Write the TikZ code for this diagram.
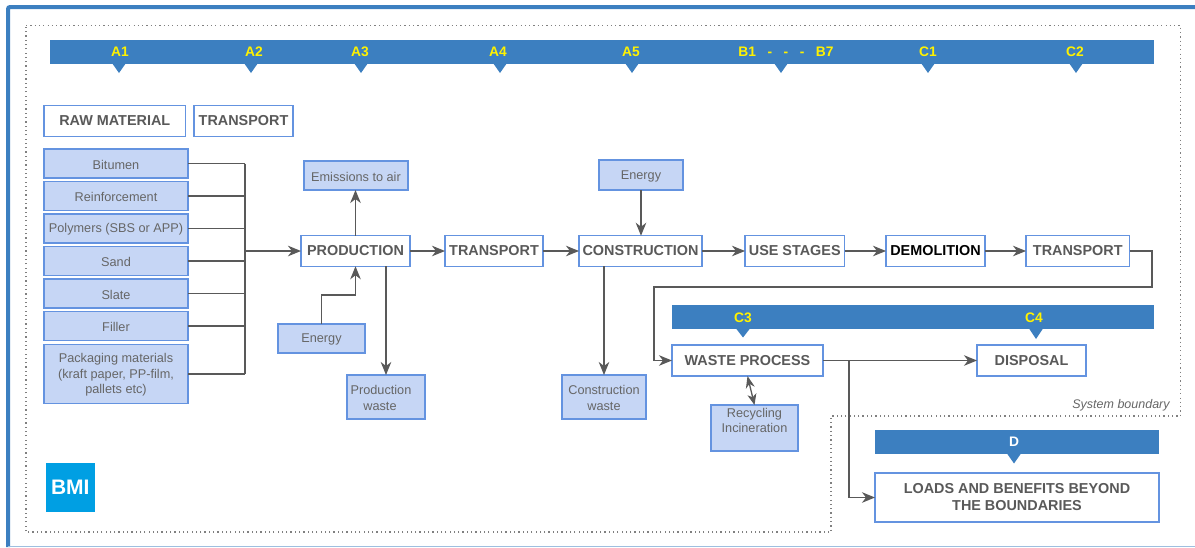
\documentclass[tikz,border=0pt]{standalone}
\usepackage{fontspec}
\setmainfont{Liberation Sans}
\usepackage{xcolor}
\usetikzlibrary{arrows.meta}
\definecolor{barblue}{HTML}{3C7FC0}
\definecolor{boxfill}{HTML}{C6D6F5}
\definecolor{boxline}{HTML}{6493E0}
\definecolor{inktext}{HTML}{595959}
\definecolor{softtext}{HTML}{666666}
\definecolor{logoblue}{HTML}{009FE3}
\newcommand{\toplift}{\rule{0pt}{11.5pt}}
\tikzset{
	bodyfont/.style={font=\fontsize{12.7}{15.5}\selectfont},
	stagebox/.style={draw=boxline,fill=white,line width=1.4pt,inner sep=0pt,outer sep=0pt,align=center,text=inktext,font=\fontsize{14.4}{17}\selectfont\bfseries},
	itembox/.style={draw=boxline,fill=boxfill,line width=1.4pt,inner sep=0pt,outer sep=0pt,align=center,text=softtext,bodyfont},
	bar/.style={fill=barblue,inner sep=0pt,outer sep=0pt},
	barlabel/.style={text=yellow,inner sep=0pt,font=\fontsize{13.8}{16}\selectfont\bfseries},
	flow/.style={draw=inktext,line width=1.3pt,-{Stealth[length=13pt,width=10.5pt,inset=4pt]}},
	feed/.style={draw=inktext,line width=1.3pt},
	boundary/.style={draw=gray,line width=1.2pt,dash pattern=on 1.2pt off 3.1pt},
}
\begin{document}
\begin{tikzpicture}[x=1pt,y=-1pt]
	\useasboundingbox (0,0) rectangle (1195,547);
	% frame and system boundary
	\draw[barblue,line width=4pt,rounded corners=2pt] (8,547) -- (8,7) -- (1195,7);
	\draw[barblue!50,line width=1.2pt] (8,546.2) -- (1195,546.2);
	\draw[boundary] (26,25.5) -- (1180.5,25.5) -- (1180.5,416) -- (831,416) -- (831,532) -- (26,532) -- cycle;
	\node (sysboundary) at (1121,405)[inner sep=0pt,text=softtext,font=\fontsize{12.5}{14}\selectfont\itshape]{System boundary};

	% stage bars
	\node (barA) at (601.75,51.75)[bar,minimum width=1104.5pt,minimum height=23.5pt]{};
	\node (barC) at (913,317)[bar,minimum width=482pt,minimum height=24pt]{};
	\node (barD) at (1017,442)[bar,minimum width=284pt,minimum height=24pt]{};
	\foreach \x in {119,251,361,500,632,781,928,1076}{
		\fill[barblue] (\x-7,63) -- (\x+7,63) -- (\x,73) -- cycle;
	}
	\fill[barblue] (736,328.5) -- (750,328.5) -- (743,337.5) -- cycle;
	\fill[barblue] (1029,328.5) -- (1043,328.5) -- (1036,339) -- cycle;
	\fill[barblue] (1007,453.5) -- (1021,453.5) -- (1014,463.5) -- cycle;
	\foreach \nm/\lab/\x/\y in {la1/A1/120/52,la2/A2/254/52,la3/A3/360/52,la4/A4/498/52,la5/A5/631/52,lb/B1\ \ \ -\ \ \ -\ \ \ -\ \ \ B7/786/52,lc1/C1/928/52,lc2/C2/1075/52,lc3/C3/743/318,lc4/C4/1034/318}{
		\node (\nm) at (\x,\y)[barlabel]{\lab};
	}
	\node (ld) at (1014,442)[barlabel,text=white]{D};

	% raw materials
	\node (rawmat) at (114.75,121)[stagebox,minimum width=141.5pt,minimum height=30.5pt]{RAW MATERIAL};
	\node (transA) at (243.5,121)[stagebox,minimum width=99pt,minimum height=30.5pt]{TRANSPORT};
	\foreach \nm/\txt/\y/\h in {bitumen/Bitumen/163.5/29,reinf/Reinforcement/196/28.5,polymers/Polymers (SBS or APP)/228.5/29,sand/Sand/261/28.5,slate/Slate/293.5/29,filler/Filler/326/28.5}{
		\node (\nm) at (116,\y)[itembox,minimum width=144pt,minimum height=\h pt]{\toplift\txt};
	}
	\node (packaging) at (116,374)[itembox,minimum width=144pt,minimum height=59pt]{\toplift Packaging materials\\(kraft paper, PP-film,\\pallets etc)};

	% main chain
	\node (production) at (355.5,251)[stagebox,minimum width=109pt,minimum height=30.5pt]{PRODUCTION};
	\node (transB) at (494,251)[stagebox,minimum width=98pt,minimum height=30.5pt]{TRANSPORT};
	\node (construction) at (640.5,251)[stagebox,minimum width=123pt,minimum height=30.5pt]{CONSTRUCTION};
	\node (usestages) at (794.75,251)[stagebox,minimum width=99.5pt,minimum height=30.5pt]{USE STAGES};
	\node (demolition) at (935.5,251)[stagebox,minimum width=99pt,minimum height=30.5pt,text=black]{DEMOLITION};
	\node (transC) at (1077.75,251)[stagebox,minimum width=103.5pt,minimum height=30.5pt]{TRANSPORT};
	\node (wasteproc) at (747.5,360.5)[stagebox,minimum width=151pt,minimum height=31pt]{WASTE PROCESS};
	\node (disposal) at (1031.5,360.5)[stagebox,minimum width=109pt,minimum height=31pt]{DISPOSAL};
	\node (loads) at (1017,497.5)[stagebox,minimum width=284pt,minimum height=49pt]{LOADS AND BENEFITS BEYOND\\THE BOUNDARIES};

	% inputs and outputs
	\node (emissions) at (356,175.5)[itembox,minimum width=104pt,minimum height=29pt]{\toplift Emissions to air};
	\node (energyA) at (321.5,338.5)[itembox,minimum width=87pt,minimum height=29pt]{\toplift Energy};
	\node (prodwaste) at (386,397)[itembox,minimum width=78pt,minimum height=44pt]{\toplift Production\hspace*{10pt}\\waste\hspace*{12pt}};
	\node (energyB) at (641,175)[itembox,minimum width=84pt,minimum height=30pt]{\toplift Energy};
	\node (conwaste) at (604,397)[itembox,minimum width=84pt,minimum height=44pt]{\toplift Construction\\waste};
	\node (recycling) at (754.5,428)[itembox,minimum width=87pt,minimum height=46pt]{Recycling\\Incineration\\\mbox{}};

	% logo
	\node (logo) at (70.25,487.5)[fill=logoblue,text=white,inner sep=0pt,minimum size=49.5pt,font=\fontsize{21}{21}\selectfont\bfseries]{BMI};

	% connectors
	\coordinate (busjoin) at (245,251);
	\foreach \nm in {bitumen,reinf,polymers,sand,slate,filler,packaging}{
		\draw[feed] (\nm.east) -- (\nm.east -| busjoin);
	}
	\draw[feed] (bitumen.east -| busjoin) -- (packaging.east -| busjoin);
	\draw[flow,line width=2pt] (busjoin) -- (production.west);
	\draw[flow] (production.north) -- (production.north |- emissions.south);
	\draw[flow] (energyA.north) -- ++(0,-29) -| (production.south);
	\draw[flow] (production.south -| prodwaste.north) -- (prodwaste.north);
	\draw[flow] (production.east) -- (transB.west);
	\draw[flow] (transB.east) -- (construction.west);
	\draw[flow] (energyB.south) -- (energyB.south |- construction.north);
	\draw[flow] (construction.south -| conwaste.north) -- (conwaste.north);
	\draw[flow] (construction.east) -- (usestages.west);
	\draw[flow] (usestages.east) -- (demolition.west);
	\draw[flow] (demolition.east) -- (transC.west);
	\draw[flow] (transC.east) -- ++(22.5,0) -- ++(0,36) -- ++(-498,0) |- (wasteproc.west);
	\draw[flow] (wasteproc.east) -- (disposal.west);
	\draw[flow] (wasteproc.east) -- ++(26,0) |- (loads.west);
	\draw[flow,{Stealth[length=12pt,width=9pt]}-{Stealth[length=11pt,width=9pt,inset=3pt]}] (wasteproc.south) -- (recycling.north);
\end{tikzpicture}
\end{document}
